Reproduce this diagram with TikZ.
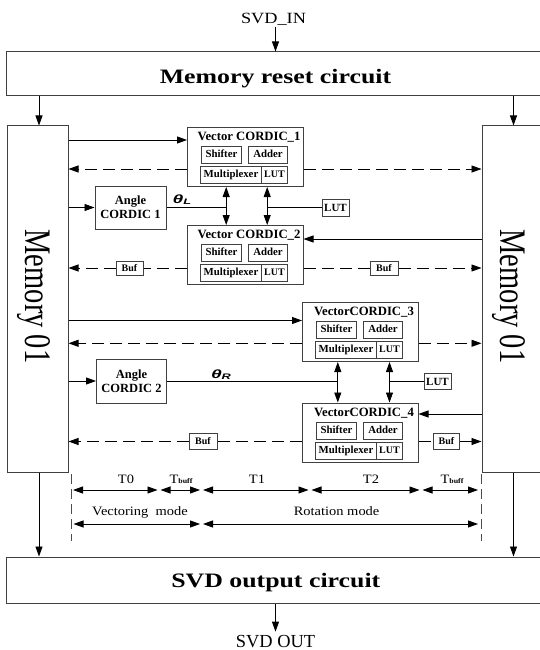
\documentclass[tikz,border=0pt]{standalone}
\usepackage{fontspec}
\setmainfont{Liberation Serif}
\newfontfamily\bigfnt[FakeStretch=1.26]{Liberation Serif}
\newfontfamily\infnt[FakeStretch=1.17]{Liberation Serif}
\newfontfamily\memfnt[FakeStretch=0.76]{Liberation Serif}
\newfontfamily\tmfnt[FakeStretch=1.13]{Liberation Serif}
\newfontfamily\thfnt[FakeStretch=1.6]{Liberation Sans}
\usetikzlibrary{arrows.meta}
\newcommand\cordicblk[4]{%
\begin{scope}[shift={(#2,#3)}]
\node[box,anchor=north west,minimum width=115.5pt,minimum height=59pt] (#1) at (0,0) {};
\node[ttl,anchor=base] (#1t) at (62,13.5) {#4};
\node[sub,minimum width=40pt] (#1s) at (14,19) {Shifter};
\node[sub,minimum width=39pt] (#1a) at (61,19) {Adder};
\node[sub,minimum width=61pt] (#1m) at (13,39) {Multiplexer};
\node[sub,minimum width=26pt,font=\fontsize{10}{12}\selectfont\bfseries] (#1l) at (74,39) {LUT};
\end{scope}}
\begin{document}
\begin{tikzpicture}[x=1pt,y=-1pt,
 box/.style={draw=black!75,line width=1pt,inner sep=0pt},
 txt/.style={inner sep=1pt},
 arr/.style={line width=0.9pt,-{Triangle[length=10pt,width=7pt]}},
 plain/.style={line width=0.9pt},
 darr/.style={arr,dash pattern=on 12pt off 6pt},
 dline/.style={plain,dash pattern=on 12pt off 6pt},
 dbl/.style={line width=0.9pt,{Triangle[length=10pt,width=7pt]}-{Triangle[length=10pt,width=7pt]}},
 tdash/.style={line width=0.9pt,black!70,dash pattern=on 10pt off 5pt},
 ttl/.style={txt,font=\fontsize{12.7}{14}\selectfont\bfseries},
 sub/.style={box,font=\fontsize{10.8}{12}\selectfont\bfseries,minimum height=17pt,anchor=north west,text height=7pt,text depth=1.5pt},
 bigtxt/.style={txt,font=\bigfnt\bfseries\fontsize{20.5}{24}\selectfont},
 memtxt/.style={txt,font=\memfnt\fontsize{37.5}{40}\selectfont},
 angtxt/.style={font=\fontsize{12.5}{14}\selectfont\bfseries,align=center},
 buf/.style={box,font=\fontsize{10}{12}\selectfont\bfseries,text height=7pt,text depth=1pt},
 lut/.style={box,font=\fontsize{11}{12}\selectfont\bfseries,text height=7.5pt,text depth=0.5pt},
 tmtxt/.style={txt,font=\tmfnt\fontsize{12.8}{14}\selectfont},
 thtxt/.style={txt,font=\thfnt\bfseries\itshape\fontsize{12}{12}\selectfont}
]
\fill[white] (0,0) rectangle (540,650);
\useasboundingbox (0,0) rectangle (540,650);

% top
\node[txt,anchor=base,font=\infnt\fontsize{15.6}{18}\selectfont] (svdin) at (273.5,24) {SVD\_IN};
\node[box,minimum width=539pt,minimum height=44pt] (reset) at (275.5,74) {};
\node[bigtxt,anchor=base] (resett) at (275.5,83.7) {Memory reset circuit};
\draw[arr] (svdin.south -| reset.north) -- (reset.north);

% memories
\node[box,minimum width=61pt,minimum height=346pt] (mem1) at (37.5,299) {};
\node[memtxt,rotate=-90,anchor=base] (mem1t) at (25,296.5) {Memory 01};
\node[box,minimum width=63pt,minimum height=346pt] (mem2) at (513.5,299) {};
\node[memtxt,rotate=-90,anchor=base] (mem2t) at (500,296.5) {Memory 01};
\draw[arr] ([xshift=1.5pt]mem1.north |- reset.south) -- ([xshift=1.5pt]mem1.north);
\draw[arr] (mem2.north |- reset.south) -- (mem2.north);

% output
\node[box,minimum width=539pt,minimum height=46pt] (outc) at (275.5,580) {};
\node[bigtxt,anchor=base] (outt) at (275.8,587) {SVD output circuit};
\draw[arr] ([xshift=1.5pt]mem1.south) -- ([xshift=1.5pt]mem1.south |- outc.north);
\draw[arr] (mem2.south) -- (mem2.south |- outc.north);
\node[txt,anchor=base,font=\fontsize{18.4}{20}\selectfont] (svdout) at (275.5,647) {SVD OUT};
\draw[arr] (outc.south) -- ([yshift=2pt]svdout.north);

% CORDIC blocks
\cordicblk{c1}{187}{127}{Vector CORDIC\_1}
\cordicblk{c2}{187}{225}{Vector CORDIC\_2}
\cordicblk{c3}{302}{302}{VectorCORDIC\_3}
\cordicblk{c4}{302}{402.5}{VectorCORDIC\_4}

% angle cordics, LUTs, buffers
\node[box,angtxt,minimum width=71pt,minimum height=43pt] (ang1) at (130.5,207.5) {Angle\\CORDIC 1};
\node[box,angtxt,minimum width=70pt,minimum height=44pt] (ang2) at (131.5,381) {Angle\\CORDIC 2};
\node[lut,minimum width=27pt,minimum height=17pt] (lut1) at (335.5,207.5) {LUT};
\node[lut,minimum width=27pt,minimum height=16pt] (lut2) at (437.5,381.5) {LUT};
\node[buf,minimum width=27pt,minimum height=14pt] (buf1) at (129.5,268) {Buf};
\node[buf,minimum width=28pt,minimum height=14pt] (buf2) at (384,268) {Buf};
\node[buf,minimum width=28pt,minimum height=16pt] (buf3) at (203,441.5) {Buf};
\node[buf,minimum width=26pt,minimum height=16pt] (buf4) at (446.5,441.5) {Buf};

% theta labels
\node[thtxt,anchor=base] (thL) at (182,203) {θ\raisebox{-1.5pt}{\fontsize{8}{8}\selectfont L}};
\node[thtxt,anchor=base] (thR) at (221,378) {θ\raisebox{-1.5pt}{\fontsize{8}{8}\selectfont R}};

% double arrows between cordics
\coordinate (k1) at ([xshift=-19.05pt]c1.south);
\coordinate (k2) at ([xshift=21.95pt]c1.south);
\coordinate (k3) at ([xshift=-22.45pt]c3.south);
\coordinate (k4) at ([xshift=29.25pt]c3.south);
\draw[dbl] (k1) -- (k1 |- c2.north);
\draw[dbl] (k2) -- (k2 |- c2.north);
\draw[dbl] (k3) -- (k3 |- c4.north);
\draw[dbl] (k4) -- (k4 |- c4.north);
\draw[plain] (ang1.east) -- (ang1.east -| k1);
\draw[plain] (lut1.west) -- (lut1.west -| k2);
\draw[plain] (ang2.east) -- (ang2.east -| k3);
\draw[plain] (lut2.west) -- (lut2.west -| k4);

% connectors row c1
\draw[arr] (mem1.east |- 0,140) -- (c1.west |- 0,140);
\draw[darr] (c1.west |- 0,169) -- (mem1.east |- 0,169);
\draw[darr] (c1.east |- 0,169) -- (mem2.west |- 0,169);
\draw[arr] (mem1.east |- ang1.west) -- (ang1.west);
% row c2
\draw[arr] (mem2.west |- 0,239) -- (c2.east |- 0,239);
\draw[dline] (c2.west |- buf1) -- (buf1.east);
\draw[darr] (buf1.west) -- (mem1.east |- buf1);
\draw[dline] (c2.east |- buf2) -- (buf2.west);
\draw[darr] (buf2.east) -- (mem2.west |- buf2);
% row c3
\draw[arr] (mem1.east |- 0,320.5) -- (c3.west |- 0,320.5);
\draw[darr] (c3.west |- 0,343.3) -- (mem1.east |- 0,343.3);
\draw[darr] (c3.east |- 0,343.3) -- (mem2.west |- 0,343.3);
\draw[arr] (mem1.east |- ang2.west) -- (ang2.west);
% row c4
\draw[arr] (mem2.west |- 0,414) -- (c4.east |- 0,414);
\draw[dline] (c4.west |- buf3) -- (buf3.east);
\draw[darr] (buf3.west) -- (mem1.east |- buf3);
\draw[dline] (c4.east |- buf4) -- (buf4.west);
\draw[darr] (buf4.east) -- (mem2.west |- buf4);

% timing
\coordinate (tl1) at (71.5,474); \coordinate (tl2) at (71.5,541);
\coordinate (tr1) at (481,474); \coordinate (tr2) at (481,541);
\draw[tdash] (tl1) -- (tl2);
\draw[tdash] (tr1) -- (tr2);
\coordinate (b0) at (71.5,490); \coordinate (b1) at (159,490);
\coordinate (b2) at (201.5,490); \coordinate (b3) at (310,490);
\coordinate (b4) at (421,490); \coordinate (b5) at (479.5,490);
\draw[dbl] ([xshift=1.5pt]b0) -- ([xshift=-1.5pt]b1);
\draw[dbl] ([xshift=1.5pt]b1) -- ([xshift=-1.5pt]b2);
\draw[dbl] ([xshift=1.5pt]b2) -- ([xshift=-1.5pt]b3);
\draw[dbl] ([xshift=1.5pt]b3) -- ([xshift=-1.5pt]b4);
\draw[dbl] ([xshift=1.5pt]b4) -- ([xshift=-1.5pt]b5);
\coordinate (m0) at (71.5,524); \coordinate (m1) at (201.5,524); \coordinate (m2) at (479.5,524);
\draw[dbl] ([xshift=2pt]m0) -- ([xshift=-1.5pt]m1);
\draw[dbl] ([xshift=1.5pt]m1) -- ([xshift=-1.5pt]m2);
\node[tmtxt,anchor=base] (lt0) at (126,483.3) {T0};
\node[tmtxt,anchor=base] (ltb1) at (181,483.3) {T{\fontsize{7}{7}\selectfont\bfseries buff}};
\node[tmtxt,anchor=base] (lt1) at (257,483.3) {T1};
\node[tmtxt,anchor=base] (lt2) at (371,483.3) {T2};
\node[tmtxt,anchor=base] (ltb2) at (452,483.3) {T{\fontsize{7}{7}\selectfont\bfseries buff}};
\node[tmtxt,anchor=base] (lvm) at (140,515) {Vectoring~ mode};
\node[tmtxt,anchor=base] (lrm) at (336.6,515) {Rotation mode};
\end{tikzpicture}
\end{document}
